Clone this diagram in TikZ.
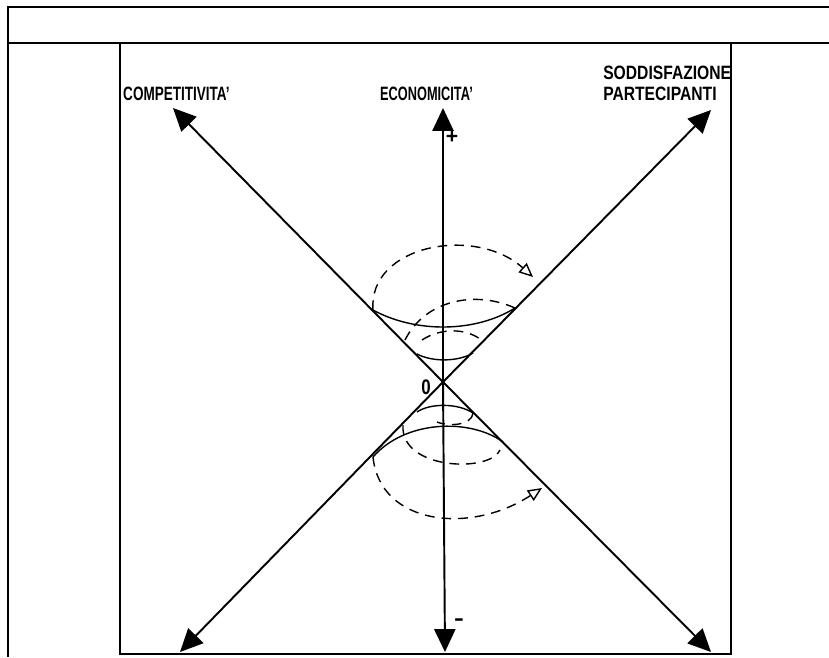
\documentclass[tikz,border=0pt]{standalone}
\usepackage{fontspec}
\setmainfont{Liberation Sans}
\usetikzlibrary{arrows.meta}
\begin{document}
\begin{tikzpicture}[
  x=0.02cm, y=-0.02cm,
  frameln/.style = {draw=black, line width=1.2pt},
  axis/.style    = {-{Triangle[length=13pt,width=12pt]}, line width=1.1pt, black},
  arc/.style     = {line width=0.8pt, black},
  dsh/.style     = {line width=0.8pt, black, dash pattern=on 5.5pt off 4pt},
  dshar/.style   = {dsh, -{Triangle[open,length=8pt,width=7pt,line width=0.8pt,sep=0pt]}},
  lab/.style     = {font=\fontsize{11}{12}\selectfont\bfseries, inner sep=0pt, anchor=west, align=left},
  sgn/.style     = {font=\fontsize{12}{12}\selectfont\bfseries, inner sep=0pt}
]
  \useasboundingbox (0,0) rectangle (829,657);

  % frame
  \coordinate (tl) at (8,7);
  \coordinate (tr) at (829,7);
  \coordinate (bl) at (8,657);
  \coordinate (ml) at (8,43);
  \coordinate (mr) at (829,43);
  \draw[frameln] (tr) -- (tl) -- (bl);
  \draw[frameln] (ml) -- (mr);
  \draw[frameln] (120,43) rectangle (731,654);

  % axes
  \coordinate (zero) at (443,382);
  \coordinate (aC) at (173,108);
  \coordinate (aE) at (443,108);
  \coordinate (aS) at (711,110);
  \coordinate (aBL) at (180,652);
  \coordinate (aB) at (445,652);
  \coordinate (aBR) at (711,652);
  \foreach \mytip in {aC,aE,aS,aBL,aB,aBR}{
    \draw[axis] (zero) -- (\mytip);
  }

  \node[lab, xscale=0.70] (compet) at (123,94) {COMPETITIVITA'};
  \node[lab, xscale=0.66] (econ) at (380,94) {ECONOMICITA'};
  \node[lab, xscale=0.81] (sodd) at (603,83) {SODDISFAZIONE\\PARTECIPANTI};
  \node[sgn] (plus) at (452,137) {+};
  \node[sgn, xscale=1.4] (minus) at (459,622) {-};
  \node[sgn, xscale=0.8] (orig) at (426,387) {0};

  % upper cone
  \coordinate (u1) at (373,310);
  \coordinate (u2) at (515,308);
  \coordinate (u3) at (417,354);
  \coordinate (u4) at (473,353);
  \coordinate (u5) at (405,340);
  \coordinate (u6) at (422,340);
  \coordinate (u7) at (480,339);
  \coordinate (u8) at (533,277);
  \draw[arc] (u1) .. controls (415,333) and (475,333) .. (u2);
  \draw[arc] (u3) .. controls (432,362) and (458,362) .. (u4);
  \draw[dsh] (u2) .. controls (475,290) and (425,300) .. (u5);
  \draw[dsh] (u6) .. controls (440,328) and (465,328) .. (u7);
  \draw[dshar] (u1) .. controls (368,245) and (475,225) .. (u8);

  % lower cone
  \coordinate (d1) at (373,457);
  \coordinate (d2) at (503,442);
  \coordinate (d3) at (417,412);
  \coordinate (d4) at (473,413);
  \coordinate (d5) at (403,425);
  \coordinate (d6) at (500,450);
  \coordinate (d7) at (437,422);
  \coordinate (d8) at (542,488);
  \draw[arc] (d1) .. controls (405,420) and (470,418) .. (d2);
  \draw[arc] (d3) .. controls (430,403) and (458,403) .. (d4);
  \draw[dsh] (d4) .. controls (472,425) and (450,427) .. (d7);
  \draw[dsh] (d5) .. controls (400,470) and (490,473) .. (d6);
  \draw[dshar] (d1) .. controls (380,525) and (470,535) .. (d8);
\end{tikzpicture}
\end{document}
